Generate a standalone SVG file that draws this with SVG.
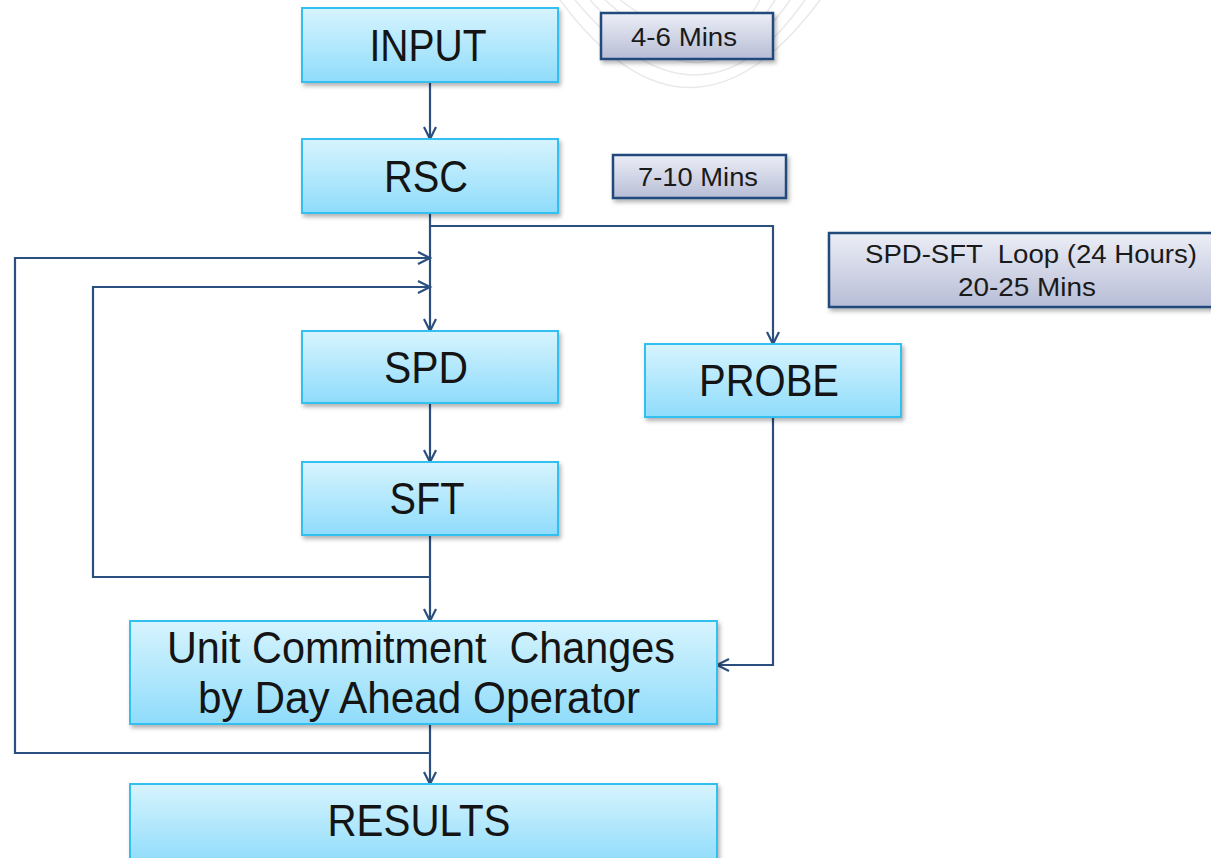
<svg xmlns="http://www.w3.org/2000/svg" width="1211" height="858" viewBox="0 0 1211 858">
  <style>
    .node { fill: url(#cyan); stroke: #33c0f0; stroke-width: 2; filter: url(#shadow); }
    .tag { fill: url(#gray); stroke: #234a7c; stroke-width: 2.5; filter: url(#shadow); }
    .nt { font-family: "Liberation Sans", Arial, sans-serif; font-size: 44px; fill: #141414; text-anchor: middle; }
    .tt { font-family: "Liberation Sans", Arial, sans-serif; font-size: 26px; fill: #1a1a1a; text-anchor: middle; }
    .conn { fill: none; stroke: #2b4f7e; stroke-width: 2.2; }
    .bg { fill: none; stroke: #e9e9ec; stroke-width: 1.5; }
  </style>
  <defs>
    <linearGradient id="cyan" x1="0" y1="0" x2="0" y2="1">
      <stop offset="0" stop-color="#d7f4fe"/>
      <stop offset="1" stop-color="#8fdcfb"/>
    </linearGradient>
    <linearGradient id="gray" x1="0" y1="0" x2="0" y2="1">
      <stop offset="0" stop-color="#eceef6"/>
      <stop offset="1" stop-color="#b7bdd6"/>
    </linearGradient>
    <filter id="shadow" x="-10%" y="-20%" width="120%" height="150%">
      <feDropShadow dx="2" dy="3" stdDeviation="2" flood-color="#000" flood-opacity="0.3"/>
    </filter>
    <marker id="arr" markerUnits="userSpaceOnUse" markerWidth="16" markerHeight="16" refX="13" refY="7" orient="auto">
      <path d="M1,1 L13,7 L1,13" fill="none" stroke="#2b4f7e" stroke-width="2.2"/>
    </marker>
  </defs>

  <rect width="1211" height="858" fill="#ffffff"/>

  <g id="background-arcs">
    <path class="bg" d="M560,0 Q690,175 820,0"/>
    <path class="bg" d="M575,0 Q700,150 805,0"/>
    <path class="bg" d="M590,0 Q705,125 790,0"/>
    <path class="bg" d="M605,0 Q715,100 775,0"/>
    <path class="bg" d="M620,0 Q720,75 760,0"/>
  </g>

  <g id="connectors">
    <path class="conn" d="M430,82 V139" marker-end="url(#arr)"/>
    <path class="conn" d="M430,213 V331" marker-end="url(#arr)"/>
    <path class="conn" d="M430,226 H773 V344" marker-end="url(#arr)"/>
    <path class="conn" d="M430,753 H15 V258 H430" marker-end="url(#arr)"/>
    <path class="conn" d="M430,577 H93 V287 H430" marker-end="url(#arr)"/>
    <path class="conn" d="M430,403 V462" marker-end="url(#arr)"/>
    <path class="conn" d="M430,535 V621" marker-end="url(#arr)"/>
    <path class="conn" d="M430,724 V784" marker-end="url(#arr)"/>
    <path class="conn" d="M773,417 V665 H717" marker-end="url(#arr)"/>
  </g>

  <g id="input">
    <rect class="node" x="302" y="8" width="256" height="74"/>
    <text class="nt" x="428" y="61" textLength="117" lengthAdjust="spacingAndGlyphs">INPUT</text>
  </g>
  <g id="rsc">
    <rect class="node" x="302" y="139" width="256" height="74"/>
    <text class="nt" x="426" y="192" textLength="84" lengthAdjust="spacingAndGlyphs">RSC</text>
  </g>
  <g id="spd">
    <rect class="node" x="302" y="331" width="256" height="72"/>
    <text class="nt" x="426" y="383" textLength="84" lengthAdjust="spacingAndGlyphs">SPD</text>
  </g>
  <g id="sft">
    <rect class="node" x="302" y="462" width="256" height="73"/>
    <text class="nt" x="427" y="514" textLength="75" lengthAdjust="spacingAndGlyphs">SFT</text>
  </g>
  <g id="probe">
    <rect class="node" x="645" y="344" width="256" height="73"/>
    <text class="nt" x="769" y="396" textLength="140" lengthAdjust="spacingAndGlyphs">PROBE</text>
  </g>
  <g id="unit-commitment">
    <rect class="node" x="130" y="621" width="587" height="103"/>
    <text class="nt" x="421" y="663" textLength="508" lengthAdjust="spacingAndGlyphs" xml:space="preserve">Unit Commitment  Changes</text>
    <text class="nt" x="419" y="713" textLength="442" lengthAdjust="spacingAndGlyphs">by Day Ahead Operator</text>
  </g>
  <g id="results">
    <rect class="node" x="130" y="784" width="587" height="80"/>
    <text class="nt" x="419" y="836" textLength="183" lengthAdjust="spacingAndGlyphs">RESULTS</text>
  </g>

  <g id="time-input">
    <rect class="tag" x="601" y="13" width="172" height="46"/>
    <text class="tt" x="684" y="46" textLength="106" lengthAdjust="spacingAndGlyphs">4-6 Mins</text>
  </g>
  <g id="time-rsc">
    <rect class="tag" x="613" y="155" width="173" height="43"/>
    <text class="tt" x="698" y="186" textLength="120" lengthAdjust="spacingAndGlyphs">7-10 Mins</text>
  </g>
  <g id="time-loop">
    <rect class="tag" x="829" y="233" width="390" height="74"/>
    <text class="tt" x="1031" y="263" textLength="332" lengthAdjust="spacingAndGlyphs" xml:space="preserve">SPD-SFT  Loop (24 Hours)</text>
    <text class="tt" x="1027" y="296" textLength="138" lengthAdjust="spacingAndGlyphs">20-25 Mins</text>
  </g>
</svg>
